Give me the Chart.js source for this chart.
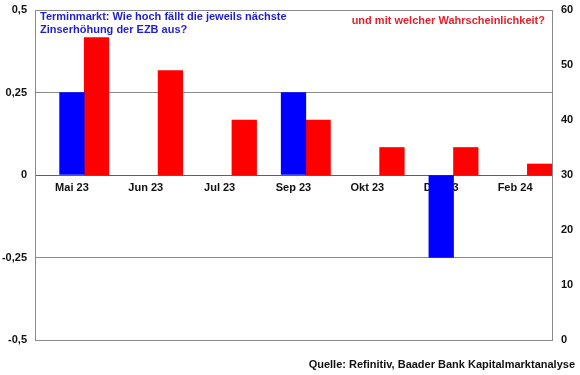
<!DOCTYPE html>
<html>
<head>
<meta charset="utf-8">
<script src="https://cdn.jsdelivr.net/npm/chart.js@4"></script>
<style>
  html, body { margin: 0; padding: 0; background: #fff; }
  #wrap { position: relative; width: 580px; height: 375px; font-family: "Liberation Sans", Arial, sans-serif; }
  canvas { position: absolute; left: 0; top: 0; }
  .note { position: absolute; font-weight: bold; font-size: 11px; white-space: nowrap; line-height: 13px; }
  #t1 { left: 40px; top: 10px; color: #1f1fd0; }
  #t2 { right: 35px; top: 14px; color: #e8202a; }
  #src { right: 5px; top: 358px; color: #111; }
</style>
</head>
<body>
<div id="wrap">
  <canvas id="c" width="580" height="375"></canvas>
  <div class="note" id="t1">Terminmarkt: Wie hoch fällt die jeweils nächste<br>Zinserhöhung der EZB aus?</div>
  <div class="note" id="t2">und mit welcher Wahrscheinlichkeit?</div>
  <div class="note" id="src">Quelle: Refinitiv, Baader Bank Kapitalmarktanalyse</div>
</div>
<script>
const categories = ["Mai 23", "Jun 23", "Jul 23", "Sep 23", "Okt 23", "Dez 23", "Feb 24"];
// Expected rate step (left axis, %-points)
const rateStep = [0.25, null, null, 0.25, null, -0.25, null];
// Probability (right axis, %), bars rise from the 30 line
const probability = [55, 49, 40, 40, 35, 35, 32];
const probabilityBase = 30;
const leftTicks = [-0.5, -0.25, 0, 0.25, 0.5];
const rightTicks = [0, 10, 20, 30, 40, 50, 60];

const fmt = v => String(v).replace('.', ',');
const tickFont = { family: "'Liberation Sans', Arial, sans-serif", size: 11, weight: 'bold' };

new Chart(document.getElementById('c'), {
  type: 'bar',
  data: {
    labels: categories,
    datasets: [
      { label: '', data: categories.map(() => null), yAxisID: 'y' },
      { label: 'Zinsschritt', data: rateStep, backgroundColor: '#0000ff', yAxisID: 'y' },
      { label: 'Wahrscheinlichkeit', data: probability.map(v => [probabilityBase, v]), backgroundColor: '#ff0000', yAxisID: 'y2' }
    ]
  },
  options: {
    responsive: false,
    animation: false,
    devicePixelRatio: 1,
    layout: { padding: { top: 10, bottom: 35, left: 0, right: 0 } },
    datasets: { bar: { categoryPercentage: 1, barPercentage: 1 } },
    plugins: { legend: { display: false }, tooltip: { enabled: false } },
    scales: {
      x: {
        position: { y: 0 },
        grid: { display: false, drawTicks: false },
        border: { display: true, color: '#606060', width: 1 },
        ticks: { color: '#111', font: tickFont, padding: 6, maxRotation: 0, autoSkip: false },
        afterFit: s => { s.paddingTop = 0; s.paddingBottom = 0; s.paddingLeft = 0; s.paddingRight = 0; }
      },
      y: {
        position: 'left',
        min: -0.5, max: 0.5,
        afterBuildTicks: s => { s.ticks = leftTicks.map(v => ({ value: v })); },
        afterFit: s => { s.width = 35; s.paddingTop = 0; s.paddingBottom = 0; },
        grid: { color: '#8a8a8a', lineWidth: 1, drawTicks: false },
        border: { display: true, color: '#8a8a8a', width: 1 },
        ticks: { color: '#111', font: tickFont, padding: 8, callback: v => fmt(v) }
      },
      y2: {
        position: 'right',
        min: 0, max: 60,
        afterBuildTicks: s => { s.ticks = rightTicks.map(v => ({ value: v })); },
        afterFit: s => { s.width = 28; s.paddingTop = 0; s.paddingBottom = 0; },
        grid: { drawOnChartArea: false, drawTicks: false },
        border: { display: true, color: '#8a8a8a', width: 1 },
        ticks: { color: '#111', font: tickFont, padding: 9, callback: v => String(v) }
      }
    }
  }
});
</script>
</body>
</html>
